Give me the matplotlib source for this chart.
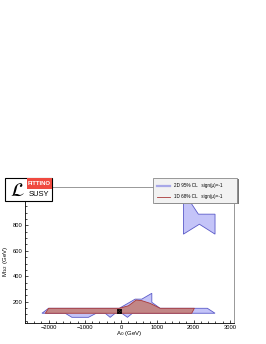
import matplotlib

matplotlib.use("Agg")
import matplotlib.pyplot as plt
from matplotlib.lines import Line2D
from matplotlib.patches import Polygon, Rectangle
from matplotlib.ticker import MultipleLocator

plt.rcParams["font.family"] = ["Liberation Sans", "DejaVu Sans"]

# 2D 95% CL region, lower band (A0, M1/2) in GeV
blue_low_x = [-2183, -1541, -1358, -900, -688, -440, -303, -165, 18, 173, 311, 2587,
              2376, 1073, 845, 845, 569, 385, -50, -2000]
blue_low_y = [109, 109, 77, 77, 109, 109, 77, 109, 109, 77, 109, 109,
              148, 148, 195, 266, 220, 220, 148, 148]

# 2D 95% CL region, upper island
blue_up_x = [1716, 1927, 2128, 2587, 2587, 2156, 1716]
blue_up_y = [975, 975, 888, 888, 731, 809, 731]

# 1D 68% CL region
red_x = [-2090, -2000, -50, 202, 413, 569, 798, 1073, 2018, 1945]
red_y = [109, 148, 148, 168, 213, 208, 187, 148, 148, 109]

# best fit point
best_x = [-47]
best_y = [129]

x_ticks = [-2000, -1000, 0, 1000, 2000, 3000]
y_ticks = [200, 400, 600, 800]

W, H = 266, 344
fig = plt.figure(figsize=(W / 100, H / 100), dpi=100)
ax = fig.add_axes([25 / W, 1 - 323.3 / H, 209 / W, 136.6 / H])

blue_face, blue_edge = "#c4c4f8", "#5a5ac8"
red_face, red_edge = "#c28686", "#a83838"

for px, py in ((blue_low_x, blue_low_y), (blue_up_x, blue_up_y)):
    ax.add_patch(Polygon(list(zip(px, py)), closed=True, facecolor=blue_face,
                         edgecolor=blue_edge, linewidth=0.6, zorder=2))
ax.add_patch(Polygon(list(zip(red_x, red_y)), closed=True, facecolor=red_face,
                     edgecolor=red_edge, linewidth=0.6, zorder=3))
ax.plot(best_x, best_y, marker="s", markerfacecolor="none", markeredgecolor="black",
        markersize=3, markeredgewidth=0.6, linestyle="none", zorder=4)
ax.plot(best_x, best_y, marker="x", color="black", markersize=3.5, markeredgewidth=0.9,
        linestyle="none", zorder=4)

ax.set_xlim(-2650, 3110)
ax.set_ylim(30, 1104)
ax.set_xticks(x_ticks)
ax.set_yticks(y_ticks)
ax.xaxis.set_minor_locator(MultipleLocator(200))
ax.yaxis.set_minor_locator(MultipleLocator(50))
ax.tick_params(which="both", direction="in", top=False, right=False, labelsize=4.2, pad=1.5, width=0.5)
ax.tick_params(which="major", length=2.5)
ax.tick_params(which="minor", length=1.3)
for side in ("top", "right"):
    ax.spines[side].set_color("#888888")
    ax.spines[side].set_linewidth(0.6)
for side in ("left", "bottom"):
    ax.spines[side].set_linewidth(0.6)

fig.text(129 / W, 1 - 334 / H, r"A$_0$ (GeV)", ha="center", va="center", fontsize=4.3)
fig.text(6 / W, 1 - 261 / H, r"M$_{1/2}$ (GeV)", ha="center", va="center", fontsize=4.3, rotation=90)

# logo
fig.patches.append(Rectangle((5 / W, 1 - 201 / H), 47 / W, 23 / H, transform=fig.transFigure,
                             facecolor="white", edgecolor="black", linewidth=0.8, zorder=5))
fig.patches.append(Rectangle((27 / W, 1 - 188.5 / H), 25 / W, 10.5 / H, transform=fig.transFigure,
                             facecolor="#f04a40", edgecolor="none", zorder=6))
fig.text(39.5 / W, 1 - 183.3 / H, "FITTINO", ha="center", va="center", fontsize=4.3,
         color="white", fontweight="bold", zorder=7)
fig.text(39 / W, 1 - 195 / H, "SUSY", ha="center", va="center", fontsize=5.5, zorder=7)
fig.text(17 / W, 1 - 191 / H, r"$\mathcal{L}$", ha="center", va="center", fontsize=14, zorder=7)

# legend
fig.patches.append(Rectangle((154.5 / W, 1 - 204.5 / H), 84 / W, 25 / H, transform=fig.transFigure,
                             facecolor="#777777", edgecolor="none", zorder=8))
fig.patches.append(Rectangle((153 / W, 1 - 203 / H), 84 / W, 25 / H, transform=fig.transFigure,
                             facecolor="#f2f2f2", edgecolor="#888888", linewidth=0.6, zorder=9))
entries = [("2D 95% CL   sign(\u03bc)=-1", "#a8a8e8", 1.6, 185.5),
           ("1D 68% CL   sign(\u03bc)=-1", red_edge, 0.6, 196.5)]
for label, col, lw, yy in entries:
    fig.lines.append(Line2D([157 / W, 170 / W], [1 - yy / H] * 2, transform=fig.transFigure,
                            color=col, linewidth=lw, zorder=10))
    fig.text(174 / W, 1 - yy / H, label, ha="left", va="center", fontsize=3.3, zorder=10)

fig.savefig("out.png", dpi=100)
